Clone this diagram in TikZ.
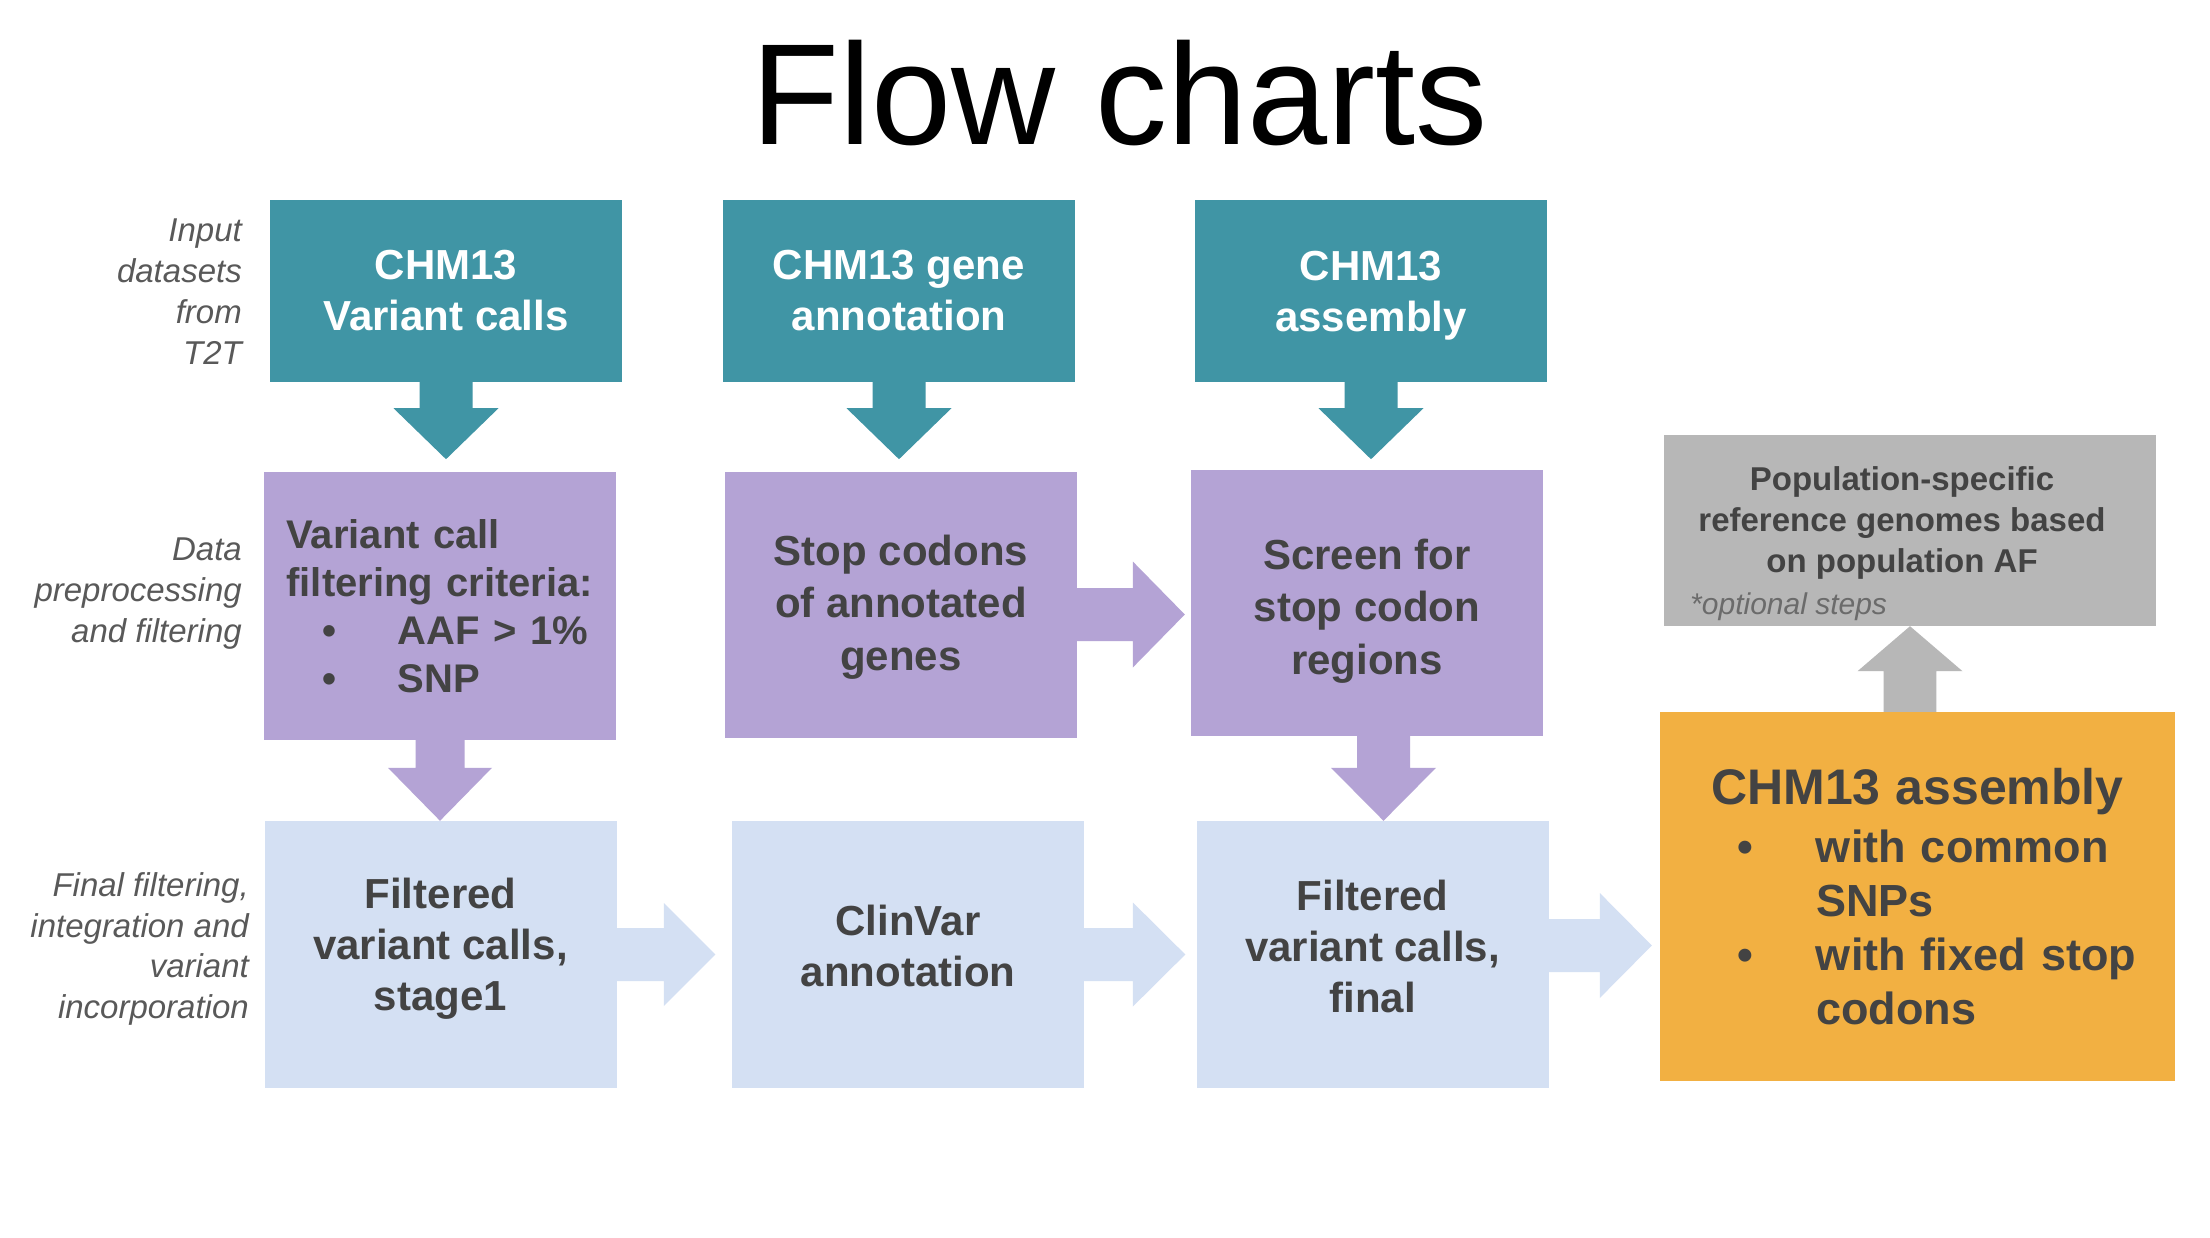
\documentclass[tikz,border=0pt]{standalone}
\usepackage{fontspec}
\setmainfont{Liberation Sans}
\usetikzlibrary{calc}
\definecolor{tealc}{HTML}{4095A5}
\definecolor{purc}{HTML}{B4A3D5}
\definecolor{bluec}{HTML}{D4E0F3}
\definecolor{orc}{HTML}{F2B042}
\definecolor{grayc}{HTML}{B7B7B7}
\definecolor{txt}{HTML}{434343}
\definecolor{labc}{HTML}{595959}
\definecolor{optc}{HTML}{6B6B6B}
% block arrows: color, start coord, tip coord, shaft half-width, head half-width, head length
\newcommand\blkdown[6]{\fill[#1] ($(#2)+(-#4,0)$) -- ($(#2)+(#4,0)$) -- ($(#3)+(#4,-#6)$) -- ($(#3)+(#5,-#6)$) -- (#3) -- ($(#3)+(-#5,-#6)$) -- ($(#3)+(-#4,-#6)$) -- cycle;}
\newcommand\blkup[6]{\fill[#1] ($(#2)+(-#4,0)$) -- ($(#2)+(#4,0)$) -- ($(#3)+(#4,#6)$) -- ($(#3)+(#5,#6)$) -- (#3) -- ($(#3)+(-#5,#6)$) -- ($(#3)+(-#4,#6)$) -- cycle;}
\newcommand\blkright[6]{\fill[#1] ($(#2)+(0,-#4)$) -- ($(#3)+(-#6,-#4)$) -- ($(#3)+(-#6,-#5)$) -- (#3) -- ($(#3)+(-#6,#5)$) -- ($(#3)+(-#6,#4)$) -- ($(#2)+(0,#4)$) -- cycle;}
\begin{document}
\begin{tikzpicture}[x=1pt,y=-1pt,
  box/.style={rectangle, inner sep=0pt, minimum width=352pt},
  tealbox/.style={box, fill=tealc, text=white, minimum height=182pt, align=center, font=\fontsize{42}{51}\selectfont\bfseries},
  purbox/.style={box, fill=purc, minimum height=266pt},
  bluebox/.style={box, fill=bluec, minimum height=267pt},
  boxtext/.style={inner sep=0pt, align=center, text=txt, font=\fontsize{42}{52.5}\selectfont\bfseries},
  sidelab/.style={anchor=east, align=right, text=labc, inner sep=0pt, font=\fontsize{33}{41}\selectfont\itshape}
]
\useasboundingbox (0,0) rectangle (2210,1238);
\fill[white] (0,0) rectangle (2210,1238);

% title
\node[anchor=base, inner sep=0pt, font=\fontsize{144}{150}\selectfont] (title) at (1120,145) {Flow charts};

% side labels
\node[sidelab] (lab1) at (242,292) {Input\\datasets\\from\\T2T};
\node[sidelab] (lab2) at (242,594) {Data\\preprocessing\\and filtering};
\node[sidelab, font=\fontsize{33}{40.5}\selectfont\itshape] (lab3) at (249,949) {Final filtering,\\integration and\\variant\\incorporation};

% row 1
\node[tealbox] (t1) at (446,291) {CHM13\\Variant calls};
\node[tealbox] (t2) at (899,291) {CHM13 gene\\annotation};
\node[tealbox] (t3) at (1371,291) {CHM13\\\smash{assembly}};

% row 2
\node[purbox, minimum height=268pt] (p1) at (440,606) {};
\node[boxtext, text width=307pt, align=left, font=\fontsize{40}{48}\selectfont\bfseries] (p1x) at (440,606)
  {Variant call\\filtering criteria:\\\hspace*{36pt}\makebox[75.5pt][l]{•}AAF > 1\%\\\hspace*{36pt}\makebox[75.5pt][l]{•}SNP};
\node[purbox] (p2) at (901,604.5) {};
\node[boxtext] (p2x) at (901,602.5) {Stop codons\\of annotated\\\smash{genes}};
\node[purbox] (p3) at (1367,602.5) {};
\node[boxtext] (p3x) at (1367,606.5) {Screen for\\stop codon\\\smash{regions}};

% row 3
\node[bluebox] (l1) at (440.5,954.5) {};
\node[boxtext, font=\fontsize{42}{51}\selectfont\bfseries] (l1x) at (440.5,944.5) {Filtered\\variant calls,\\\smash{stage1}};
\node[bluebox] (l2) at (908,954.5) {};
\node[boxtext, font=\fontsize{42}{51}\selectfont\bfseries] (l2x) at (908,946) {ClinVar\\annotation};
\node[bluebox] (l3) at (1372.5,954.5) {};
\node[boxtext, font=\fontsize{42}{51}\selectfont\bfseries] (l3x) at (1372.5,946) {Filtered\\variant calls,\\final};

% result boxes
\node[rectangle, inner sep=0pt, fill=orc, text=txt, minimum width=515pt, minimum height=369pt, text width=515pt, align=left,
      font=\fontsize{45}{54}\selectfont\bfseries] (or) at (1917.5,896.5)
  {\makebox[515pt][c]{\fontsize{50}{58}\selectfont CHM13 assembly}\\[4pt]
   \hspace*{77pt}\makebox[79pt][l]{•}with common\\
   \hspace*{156pt}SNPs\\
   \hspace*{77pt}\makebox[79pt][l]{•}with fixed stop\\
   \hspace*{156pt}codons};
\node[rectangle, inner sep=0pt, fill=grayc, minimum width=492pt, minimum height=191pt] (gy) at (1910,530.5) {};
\node[inner sep=0pt, align=center, text=txt, font=\fontsize{33}{40.7}\selectfont\bfseries] (gyt) at (1902,523)
  {Population-specific\\reference genomes based\\on population AF};
\node[anchor=base west, inner sep=0pt, text=optc, font=\fontsize{30}{36}\selectfont\itshape] (opt) at (1690,614) {*optional steps};

% teal arrows
\coordinate (a1t) at ($(t1.south)+(0,77)$);
\coordinate (a2t) at ($(t2.south)+(0,77)$);
\coordinate (a3t) at ($(t3.south)+(0,77)$);
\blkdown{tealc}{t1.south}{a1t}{26.5}{52.5}{51}
\blkdown{tealc}{t2.south}{a2t}{26.5}{52.5}{51}
\blkdown{tealc}{t3.south}{a3t}{26.5}{52.5}{51}

% purple arrows
\coordinate (b1t) at (p1.south |- l1.north);
\blkdown{purc}{p1.south}{b1t}{24.5}{52}{53}
\coordinate (b3s) at ($(p3.south)+(16.5,0)$);
\coordinate (b3t) at (b3s |- l3.north);
\blkdown{purc}{b3s}{b3t}{26.5}{52.5}{53}
\coordinate (b2s) at ($(p2.east)+(0,10)$);
\coordinate (b2t) at ($(b2s -| p3.west)+(-6,0)$);
\blkright{purc}{b2s}{b2t}{26.5}{53}{52}

% light blue arrows
\coordinate (c1t) at ($(l1.east -| l2.west)+(-16.5,0)$);
\blkright{bluec}{l1.east}{c1t}{26.5}{51.5}{51.5}
\coordinate (c2t) at ($(l2.east -| l3.west)+(-11,0)$);
\blkright{bluec}{l2.east}{c2t}{26.5}{52}{52.4}
\coordinate (c3s) at ($(l3.east)+(0,-9)$);
\coordinate (c3t) at ($(c3s -| or.west)+(-8,0)$);
\blkright{bluec}{c3s}{c3t}{26.5}{52.5}{52}

% gray arrow up
\coordinate (d1s) at (gy.south |- or.north);
\blkup{grayc}{d1s}{gy.south}{26.3}{52.5}{45}
\end{tikzpicture}
\end{document}
